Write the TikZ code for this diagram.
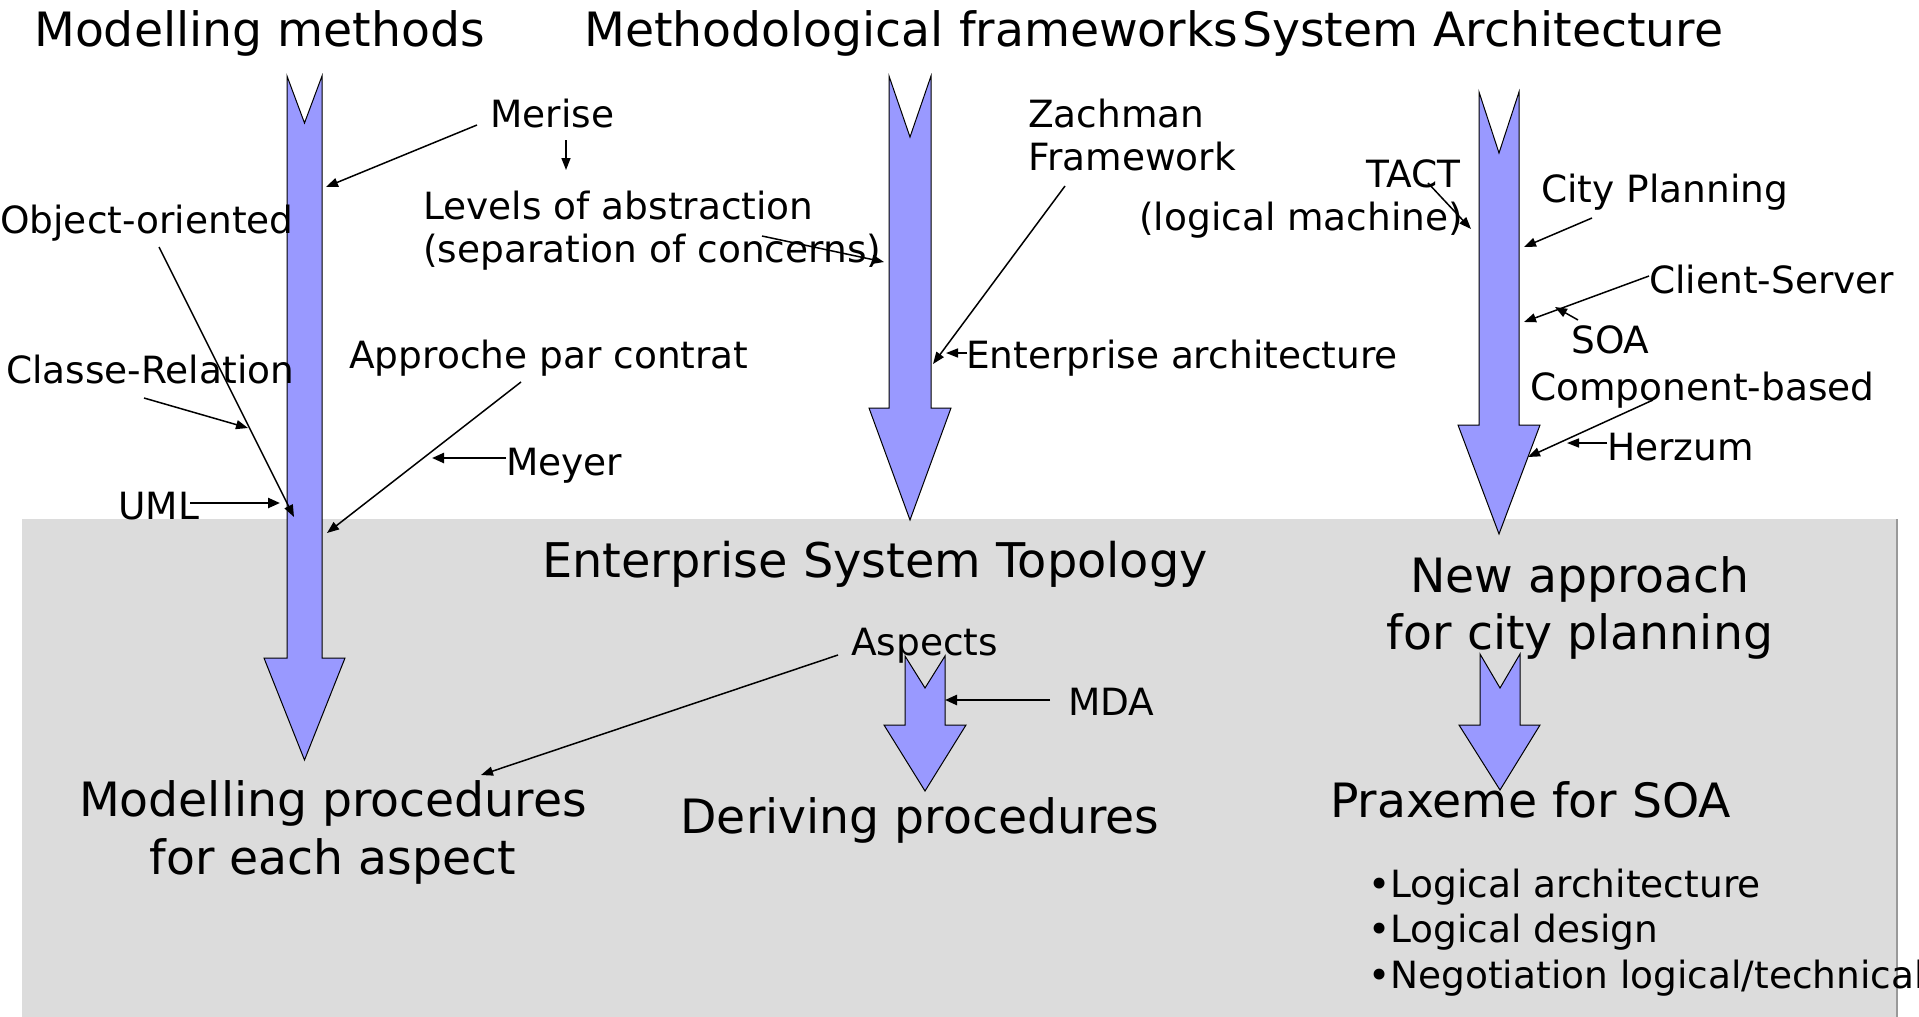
\documentclass[tikz,border=0pt]{standalone}
\usepackage{fontspec}
\setmainfont{DejaVu Sans}
\usetikzlibrary{arrows.meta}
\definecolor{arrowblue}{HTML}{9999FF}
\definecolor{panelgray}{HTML}{DCDCDC}
\begin{document}
\begin{tikzpicture}[x=1pt,y=-1pt,
  bigarrow/.style={fill=arrowblue,draw=black,line width=1pt,line join=miter},
  lbl/.style={font=\fontsize{37.5}{44}\selectfont,inner sep=0pt,anchor=base west},
  big/.style={font=\fontsize{47.3}{56}\selectfont,inner sep=0pt},
  conn/.style={line width=1.5pt,-{Triangle[length=12pt,width=9pt]}},
  thickconn/.style={line width=2.4pt,-{Triangle[length=12pt,width=10pt]}}]
\useasboundingbox (0,0) rectangle (1919,1017);
% panel
\fill[panelgray] (22,519) rectangle (1898,1017);
\draw[gray!80,line width=1.4pt] (1897,519) -- (1897,1017);
% big arrows
\draw[bigarrow] (287,76) -- (304.5,123) -- (322,76) -- (322,658) -- (345,658) -- (304.5,760) -- (264,658) -- (287,658) -- cycle;
\draw[bigarrow] (889,76) -- (910,137) -- (931,76) -- (931,408) -- (951,408) -- (910,520) -- (869,408) -- (889,408) -- cycle;
\draw[bigarrow] (1479,92) -- (1499,153) -- (1519,92) -- (1519,425) -- (1540,425) -- (1499,534) -- (1458,425) -- (1479,425) -- cycle;
\draw[bigarrow] (905,656) -- (925,688) -- (945,656) -- (945,725) -- (966,725) -- (925,791) -- (884,725) -- (905,725) -- cycle;
\draw[bigarrow] (1480,654) -- (1500,688) -- (1520,654) -- (1520,725) -- (1540,725) -- (1500,790) -- (1459,725) -- (1480,725) -- cycle;
% titles
\node[big,anchor=base west] (t1) at (34,46) {Modelling methods};
\node[big,anchor=base west] (t2) at (584,46) {Methodological frameworks};
\node[big,anchor=base west] (t3) at (1242,46) {System Architecture};
% upper labels
\node[lbl] (merise) at (490,127) {Merise};
\node[lbl] (levels) at (423,219) {Levels of abstraction};
\node[lbl] (sep) at (423,262) {(separation of concerns)};
\node[lbl] (oo) at (0,233) {Object-oriented};
\node[lbl] (cr) at (6,383) {Classe-Relation};
\node[lbl] (uml) at (118,519) {UML};
\node[lbl] (apc) at (349,368) {Approche par contrat};
\node[lbl] (meyer) at (506,475) {Meyer};
\node[lbl] (zach) at (1028,127) {Zachman};
\node[lbl] (frame) at (1028,170) {Framework};
\node[lbl] (ea) at (966,368) {Enterprise architecture};
\node[lbl] (tact) at (1366,187) {TACT};
\node[lbl] (lm) at (1139,230) {(logical machine)};
\node[lbl] (city) at (1541,202) {City Planning};
\node[lbl] (cs) at (1649,293) {Client-Server};
\node[lbl] (soa) at (1571,353) {SOA};
\node[lbl] (cb) at (1530,400) {Component-based};
\node[lbl] (herzum) at (1607,460) {Herzum};
% panel labels
\node[big,anchor=base west,font=\fontsize{47.8}{56}\selectfont] (est) at (542,577) {Enterprise System Topology};
\node[big,anchor=base] (na1) at (1580,592) {New approach};
\node[big,anchor=base] (na2) at (1580,649) {for city planning};
\node[lbl] (aspects) at (851,655) {Aspects};
\node[lbl] (mda) at (1068,715) {MDA};
\node[big,anchor=base] (mp1) at (333,816) {Modelling procedures};
\node[big,anchor=base] (mp2) at (333,874) {for each aspect};
\node[big,anchor=base] (dp) at (920,833) {Deriving procedures};
\node[big,anchor=base west] (px) at (1330,817) {Praxeme for SOA};
\node[lbl] (b1) at (1368,897) {•Logical architecture};
\node[lbl] (b2) at (1368,942) {•Logical design};
\node[lbl] (b3) at (1368,988) {•Negotiation logical/technical};
% connector end points
\coordinate (merise-s) at (477,125);   \coordinate (a1-merise) at (326,187);
\coordinate (merise-d) at (566,140);   \coordinate (levels-t) at (566,170);
\coordinate (sep-s) at (762,236);      \coordinate (a2-sep) at (884,262);
\coordinate (oo-s) at (159,247);       \coordinate (a1-oo) at (294,517);
\coordinate (cr-s) at (144,398);       \coordinate (oo-line) at (248,428);
\coordinate (uml-s) at (190,503);      \coordinate (a1-uml) at (280,503);
\coordinate (apc-s) at (521,382);      \coordinate (a1-apc) at (327,533);
\coordinate (meyer-s) at (506,458);    \coordinate (apc-line) at (432,458);
\coordinate (zach-s) at (1065,186);    \coordinate (a2-zach) at (933,364);
\coordinate (ea-s) at (967,353);       \coordinate (a2-ea) at (946,353);
\coordinate (tact-s) at (1428,183);    \coordinate (a3-tact) at (1471,229);
\coordinate (city-s) at (1592,218);    \coordinate (a3-city) at (1524,247);
\coordinate (cs-s) at (1649,276);      \coordinate (a3-cs) at (1524,322);
\coordinate (soa-s) at (1578,320);     \coordinate (cs-line) at (1555,307);
\coordinate (cb-s) at (1653,400);      \coordinate (a3-cb) at (1528,457);
\coordinate (herzum-s) at (1607,443);  \coordinate (cb-line) at (1567,443);
\coordinate (aspects-s) at (838,655);  \coordinate (mp-t) at (481,775);
\coordinate (mda-s) at (1050,700);     \coordinate (a4-mda) at (945,700);
% connectors
\draw[conn] (merise-s) -- (a1-merise);
\draw[conn] (merise-d) -- (levels-t);
\draw[conn] (sep-s) -- (a2-sep);
\draw[conn] (oo-s) -- (a1-oo);
\draw[conn] (cr-s) -- (oo-line);
\draw[thickconn] (uml-s) -- (a1-uml);
\draw[conn] (apc-s) -- (a1-apc);
\draw[thickconn] (meyer-s) -- (apc-line);
\draw[conn] (zach-s) -- (a2-zach);
\draw[conn] (ea-s) -- (a2-ea);
\draw[conn] (tact-s) -- (a3-tact);
\draw[conn] (city-s) -- (a3-city);
\draw[conn] (cs-s) -- (a3-cs);
\draw[conn] (soa-s) -- (cs-line);
\draw[conn] (cb-s) -- (a3-cb);
\draw[conn] (herzum-s) -- (cb-line);
\draw[conn] (aspects-s) -- (mp-t);
\draw[thickconn] (mda-s) -- (a4-mda);
\end{tikzpicture}
\end{document}
